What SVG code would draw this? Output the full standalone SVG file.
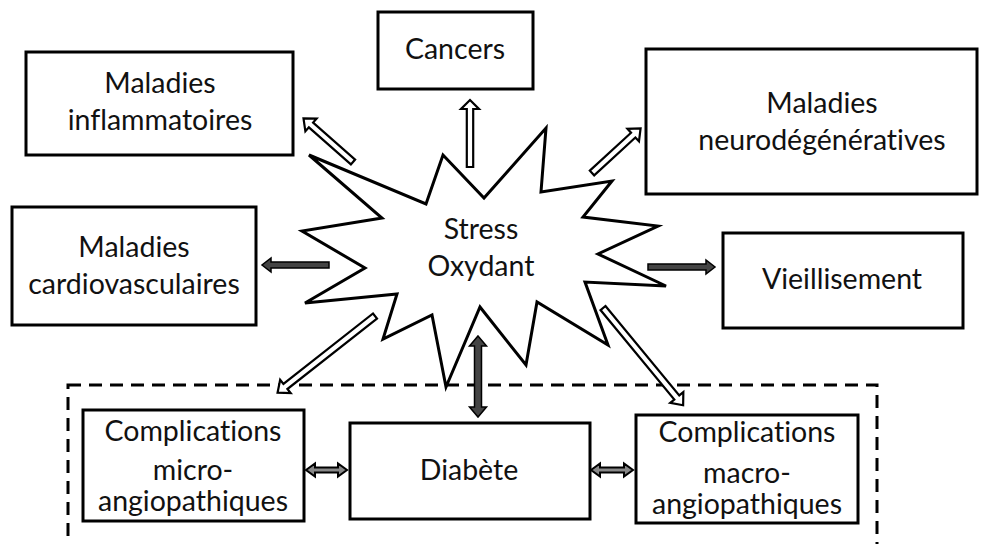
<svg xmlns="http://www.w3.org/2000/svg" width="988" height="544" viewBox="0 0 988 544">
<style>
.box{fill:#fff;stroke:#000;stroke-width:3}
.t{font-family:Lato,"Open Sans","Liberation Sans",sans-serif;font-size:28.5px;fill:#111;text-anchor:middle;font-variant-ligatures:none}
.ah{fill:#fff;stroke:#000;stroke-width:2.2;stroke-linejoin:miter}
.af{fill:#444;stroke:#000;stroke-width:1.5;stroke-linejoin:miter}
.ag{fill:#888;stroke:#000;stroke-width:2;stroke-linejoin:miter}
</style>
<rect width="988" height="544" fill="#fff"/>
<g id="group-diabete">
<rect x="68" y="385" width="809" height="180" fill="none" stroke="#000" stroke-width="3" stroke-dasharray="13 8"/>
</g>
<g id="stress">
<polygon fill="#fff" stroke="#000" stroke-width="3" stroke-linejoin="miter" points="309,155 426,204 443,155 484,198 546,128 541,192 612,181 583,217 658,226 598,254 666,286 585,282 608,345 537,302 526,365 480,307 446,387 432,315 383,339 397,294 305,303 365,268 302,231 382,218"/>
<text class="t" x="481" y="239">Stress</text>
<text class="t" x="481" y="276">Oxydant</text>
</g>
<g id="cancers">
<rect class="box" x="378" y="12" width="155" height="77"/>
<text class="t" x="455" y="59">Cancers</text>
</g>
<g id="inflammatoires">
<rect class="box" x="26" y="52" width="267" height="103"/>
<text class="t" x="160" y="93">Maladies</text>
<text class="t" x="160" y="130">inflammatoires</text>
</g>
<g id="neuro">
<rect class="box" x="646" y="49" width="331" height="145"/>
<text class="t" x="822" y="113">Maladies</text>
<text class="t" x="822" y="150">neurodégénératives</text>
</g>
<g id="cardio">
<rect class="box" x="12" y="207" width="244" height="118"/>
<text class="t" x="134" y="257">Maladies</text>
<text class="t" x="134" y="294">cardiovasculaires</text>
</g>
<g id="vieillisement">
<rect class="box" x="723" y="233" width="240" height="95"/>
<text class="t" x="842" y="289">Vieillisement</text>
</g>
<g id="micro">
<rect class="box" x="83" y="410" width="221" height="111"/>
<text class="t" x="193" y="441">Complications</text>
<text class="t" x="193" y="480">micro-</text>
<text class="t" x="193" y="511">angiopathiques</text>
</g>
<g id="diabete">
<rect class="box" x="350" y="423" width="240" height="96"/>
<text class="t" x="469" y="480">Diabète</text>
</g>
<g id="macro">
<rect class="box" x="636" y="415" width="222" height="108"/>
<text class="t" x="747" y="442">Complications</text>
<text class="t" x="747" y="483">macro-</text>
<text class="t" x="747" y="514">angiopathiques</text>
</g>
<g id="connectors">
<path class="ah" transform="translate(470,167) rotate(-90)" d="M0,-3.2 L58,-3.2 L58,-9 L67,0 L58,9 L58,3.2 L0,3.2 Z"/>
<path class="ah" transform="translate(353,162) rotate(-138.6)" d="M0,-3.2 L56,-3.2 L56,-8.5 L66,0 L56,8.5 L56,3.2 L0,3.2 Z"/>
<path class="ah" transform="translate(592,173) rotate(-42.6)" d="M0,-3.2 L56,-3.2 L56,-8.5 L66,0 L56,8.5 L56,3.2 L0,3.2 Z"/>
<path class="af" transform="translate(329,265) rotate(180)" d="M0,-3 L58,-3 L58,-7 L67,0 L58,7 L58,3 L0,3 Z"/>
<path class="af" transform="translate(648,267)" d="M0,-3 L58,-3 L58,-7 L67,0 L58,7 L58,3 L0,3 Z"/>
<path class="ah" transform="translate(375,316) rotate(141.8)" d="M0,-3.2 L114,-3.2 L114,-8.5 L124,0 L114,8.5 L114,3.2 L0,3.2 Z"/>
<path class="ah" transform="translate(603,308) rotate(50.5)" d="M0,-3.2 L116,-3.2 L116,-8.5 L126,0 L116,8.5 L116,3.2 L0,3.2 Z"/>
<path class="af" transform="translate(478,336) rotate(90)" d="M0,0 L10,-8.5 L10,-3.5 L71,-3.5 L71,-8.5 L81,0 L71,8.5 L71,3.5 L10,3.5 L10,8.5 Z"/>
<path class="ag" transform="translate(306,470)" d="M0,0 L9,-6.5 L9,-2.5 L32,-2.5 L32,-6.5 L41,0 L32,6.5 L32,2.5 L9,2.5 L9,6.5 Z"/>
<path class="ag" transform="translate(591,470)" d="M0,0 L9,-6.5 L9,-2.5 L33,-2.5 L33,-6.5 L42,0 L33,6.5 L33,2.5 L9,2.5 L9,6.5 Z"/>
</g>
</svg>
